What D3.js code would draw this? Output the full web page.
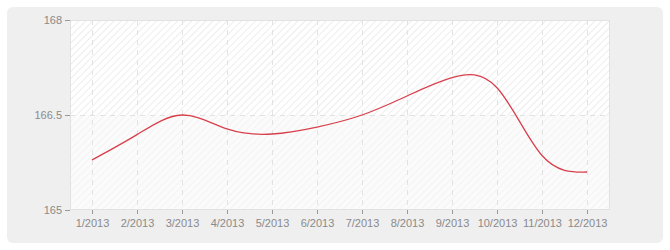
<!DOCTYPE html>
<html>
<head>
<meta charset="utf-8">
<script src="https://cdn.jsdelivr.net/npm/d3@7"></script>
<style>
html,body{margin:0;padding:0;background:#fff;}
svg{display:block;}
</style>
</head>
<body>
<script>
const categories = ["1/2013","2/2013","3/2013","4/2013","5/2013","6/2013","7/2013","8/2013","9/2013","10/2013","11/2013","12/2013"];
const values = [165.79, 166.19, 166.50, 166.28, 166.20, 166.31, 166.50, 166.80, 167.09, 166.93, 165.86, 165.60];
const yTicks = [165, 166.5, 168];
const yTickLabels = ["165", "166.5", "168"];

const W = 670, H = 250;
const plot = {left: 70, right: 610, top: 20, bottom: 210};

const svg = d3.select("body").append("svg").attr("width", W).attr("height", H);
const defs = svg.append("defs");

function hatch(id, bg, fg) {
  const p = defs.append("pattern").attr("id", id).attr("patternUnits", "userSpaceOnUse")
    .attr("width", 5).attr("height", 5).attr("patternTransform", "rotate(45)");
  p.append("rect").attr("width", 5).attr("height", 5).attr("fill", bg);
  p.append("line").attr("x1", 0).attr("y1", 0).attr("x2", 0).attr("y2", 5)
    .attr("stroke", fg).attr("stroke-width", 1.8);
}
hatch("hUp", "#ffffff", "#ebebeb");
hatch("hLow", "#fbfbfb", "#f3f3f3");

// outer panel
svg.append("rect").attr("x", 7).attr("y", 7).attr("width", 656).attr("height", 236)
  .attr("rx", 6).attr("ry", 6).attr("fill", "#efefef");

const x = d3.scalePoint().domain(categories).range([92, 587]);
const y = d3.scaleLinear().domain([165, 168]).range([plot.bottom, plot.top]);

// bands
svg.append("rect").attr("x", plot.left).attr("y", y(168)).attr("width", plot.right - plot.left)
  .attr("height", y(166.5) - y(168)).attr("fill", "url(#hUp)");
svg.append("rect").attr("x", plot.left).attr("y", y(166.5)).attr("width", plot.right - plot.left)
  .attr("height", y(165) - y(166.5)).attr("fill", "url(#hLow)");

// plot border
svg.append("rect").attr("x", plot.left + 0.5).attr("y", plot.top + 0.5)
  .attr("width", plot.right - plot.left - 1).attr("height", plot.bottom - plot.top - 1)
  .attr("fill", "none").attr("stroke", "#e2e2e2").attr("stroke-width", 1);

// grid lines
const grid = svg.append("g");
categories.forEach(c => {
  grid.append("line").attr("x1", Math.round(x(c)) + 0.5).attr("x2", Math.round(x(c)) + 0.5)
    .attr("y1", plot.top).attr("y2", plot.bottom)
    .attr("stroke", "#e2e2e2").attr("stroke-dasharray", "5,5");
});
grid.append("line").attr("x1", plot.left).attr("x2", plot.right)
  .attr("y1", Math.round(y(166.5)) + 0.5).attr("y2", Math.round(y(166.5)) + 0.5)
  .attr("stroke", "#e2e2e2").attr("stroke-dasharray", "5,5");

// axes
const font = "'Liberation Sans', Arial, sans-serif";
const yAxis = svg.append("g").attr("transform", `translate(${plot.left},0)`)
  .call(d3.axisLeft(y).tickValues(yTicks).tickFormat((d, i) => yTickLabels[i]).tickSize(5).tickPadding(3));
const xAxis = svg.append("g").attr("transform", `translate(0,${plot.bottom})`)
  .call(d3.axisBottom(x).tickSize(4).tickPadding(5));
[yAxis, xAxis].forEach(a => {
  a.select(".domain").remove();
  a.selectAll(".tick line").attr("stroke", "#999");
  a.selectAll("text").attr("fill", "#8a8a8a").style("font-family", font).style("font-size", "11px");
});

// line
const line = d3.line().x((d, i) => x(categories[i])).y(d => y(d)).curve(d3.curveNatural);
svg.append("path").datum(values).attr("d", line).attr("fill", "none")
  .attr("stroke", "#d8404c").attr("stroke-width", 1.3);
</script>
</body>
</html>
